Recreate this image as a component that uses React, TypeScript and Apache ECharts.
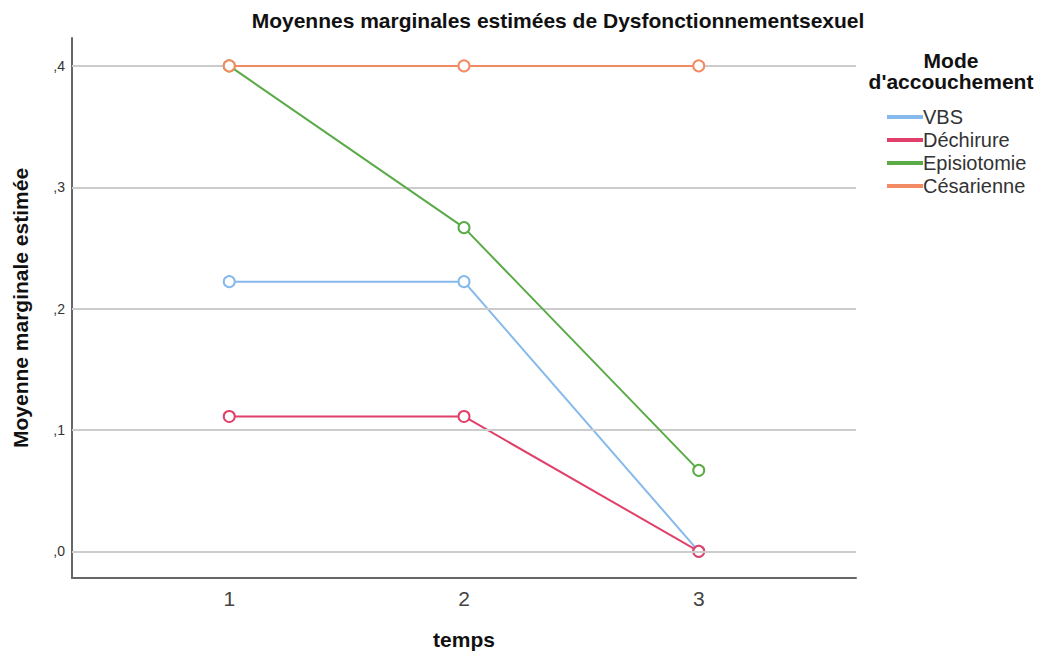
import React, { useEffect, useRef } from "react";
import * as echarts from "echarts";

const times = [1, 2, 3];
const seriesNames = ["VBS", "Déchirure", "Episiotomie", "Césarienne"];
const vbs = [0.2222, 0.2222, 0.0];
const dechirure = [0.1111, 0.1111, 0.0];
const episiotomie = [0.4, 0.2667, 0.0667];
const cesarienne = [0.4, 0.4, 0.4];
const yTicks = [0, 0.1, 0.2, 0.3, 0.4];
const colors = ["#86b9ec", "#e0406a", "#5aab47", "#f28b63"];

export default function App() {
  const ref = useRef<HTMLDivElement>(null);
  useEffect(() => {
    if (!ref.current) return;
    const chart = echarts.init(ref.current, null, { renderer: "svg" });
    const values = [vbs, dechirure, episiotomie, cesarienne];
    const font = "'Liberation Sans', Arial, sans-serif";
    const lineSeries = seriesNames.map((name, i) => ({
      name,
      type: "line",
      data: times.map((t, j) => [t, values[i][j]]),
      symbol: "emptyCircle",
      symbolSize: 11,
      showAllSymbol: true,
      z: 3 + i,
      lineStyle: { color: colors[i], width: 2 },
      itemStyle: { color: colors[i], borderColor: colors[i], borderWidth: 2 },
    }));
    chart.setOption({
      animation: false,
      backgroundColor: "#ffffff",
      color: colors,
      title: {
        text: "Moyennes marginales estimées de Dysfonctionnementsexuel",
        left: 558,
        top: 8,
        textAlign: "center",
        padding: 0,
        textStyle: { fontFamily: font, fontSize: 21, fontWeight: "bold", color: "#111", lineHeight: 24 },
      },
      graphic: [
        {
          type: "text",
          x: 951,
          y: 50,
          style: {
            text: "Mode\nd'accouchement",
            font: `bold 21px ${font}`,
            fill: "#111",
            textAlign: "center",
            lineHeight: 21,
          },
        },
      ],
      legend: {
        orient: "vertical",
        left: 887,
        top: 107,
        padding: 0,
        icon: "rect",
        itemWidth: 34,
        itemHeight: 2,
        itemGap: 3,
        data: seriesNames,
        textStyle: { fontFamily: font, fontSize: 20, color: "#333", lineHeight: 19, padding: [0, 0, 0, -4] },
      },
      grid: { left: 72, right: 186, top: 38, bottom: 71, containLabel: false },
      xAxis: {
        type: "value",
        min: 0.33,
        max: 3.67,
        name: "temps",
        nameLocation: "middle",
        nameGap: 51,
        nameTextStyle: { fontFamily: font, fontSize: 21, fontWeight: "bold", color: "#111" },
        axisLine: { show: true, onZero: false, lineStyle: { color: "#666", width: 2 } },
        axisTick: { show: false },
        splitLine: { show: false },
        axisLabel: {
          customValues: times,
          fontFamily: font,
          fontSize: 21,
          color: "#444",
          margin: 10,
          formatter: (v: number) => String(v),
        },
      },
      yAxis: {
        type: "value",
        min: -0.022,
        max: 0.423,
        name: "Moyenne marginale estimée",
        nameLocation: "middle",
        nameGap: 41,
        nameTextStyle: { fontFamily: font, fontSize: 21, fontWeight: "bold", color: "#111" },
        axisLine: { show: true, onZero: false, lineStyle: { color: "#666", width: 2 } },
        axisTick: { show: false },
        splitLine: { show: false },
        axisLabel: {
          customValues: yTicks,
          fontFamily: font,
          fontSize: 14,
          color: "#333",
          margin: 7,
          formatter: (v: number) => "," + Math.round(v * 10),
        },
      },
      series: [
        {
          name: "grid",
          type: "line",
          data: [],
          silent: true,
          z: 1,
          markLine: {
            silent: true,
            symbol: "none",
            label: { show: false },
            lineStyle: { color: "#cccccc", width: 2, type: "solid" },
            data: yTicks.map((v) => ({ yAxis: v })),
          },
        },
        ...lineSeries,
      ],
    });
    return () => chart.dispose();
  }, []);
  return (
    <div
      ref={ref}
      style={{ position: "fixed", left: 0, top: 0, width: 1042, height: 655, background: "#fff" }}
    />
  );
}
